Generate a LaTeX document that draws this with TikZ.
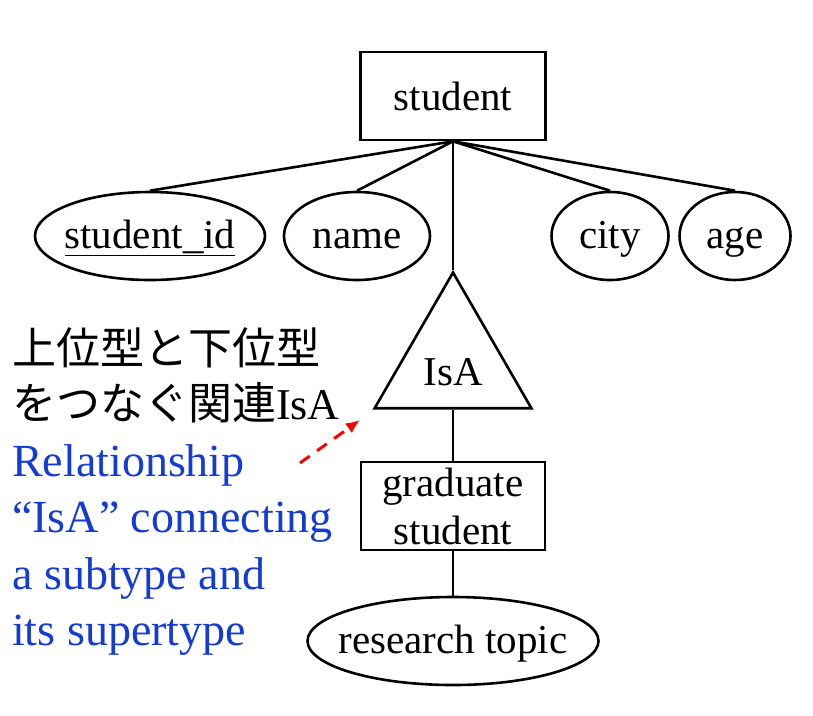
\documentclass[tikz,border=0pt]{standalone}
\usepackage{fontspec}
\setmainfont{Liberation Serif}
\newfontfamily\jafont{Noto Sans CJK JP}
\usetikzlibrary{arrows.meta,positioning,shapes.geometric}
\definecolor{noteblue}{RGB}{20,60,210}

\begin{document}
\begin{tikzpicture}[
  x=1pt, y=-1pt,
  every node/.style={font=\fontsize{41}{48}\selectfont},
  entity/.style={rectangle, draw, line width=2.6pt, minimum width=185pt, minimum height=88pt, inner sep=0pt},
  attr/.style={ellipse, draw, line width=2.6pt, minimum height=88pt, inner sep=0pt, text height=31pt, text depth=6pt},
  isa/.style={regular polygon, regular polygon sides=3, draw, line width=2.6pt, minimum size=181pt, inner sep=0pt},
  link/.style={line width=2.6pt},
  note/.style={anchor=north west, inner sep=0pt, align=left, font=\fontsize{46}{56.5}\selectfont}
]
\useasboundingbox (0,0) rectangle (813,715);
\node[entity] (student) at (453,96) {student};
\node[attr, minimum width=230pt] (sid) at (150,236) {\makebox[0pt]{\underline{student\_id}}};
\node[attr, minimum width=146pt] (name) at (357,236) {\makebox[0pt]{name}};
\node[attr, minimum width=117pt] (city) at (610,236) {\makebox[0pt]{city}};
\node[attr, minimum width=111pt] (age) at (735,236) {\makebox[0pt]{age}};
\node[isa] (isa) at (453,363) {};
\node (isatext) at (453,372) {IsA};
\node[entity, minimum width=184pt, align=center] (grad) at (453,506) {graduate\\student};
\node[attr, minimum width=291pt] (topic) at (453,641) {\makebox[0pt]{research topic}};
\draw[link] (student.south) -- (sid.north);
\draw[link] (student.south) -- (name.north);
\draw[link] (student.south) -- (city.north);
\draw[link] (student.south) -- (age.north);
\draw[link] (student.south) -- (isa.corner 1);
\draw[link] (isa.side 2) -- (grad.north);
\draw[link] (grad.south) -- (topic.north);
% annotation
\node[note, font=\fontsize{44}{55.5}\selectfont] (jp) at (12,327) {{\jafont 上位型と下位型}\\{\jafont をつなぐ関連}IsA};
\node[note, text=noteblue] (en) at (12,444) {Relationship\\“IsA” connecting\\a subtype and\\its supertype};
\coordinate (tail) at (300,463);
\coordinate (head) at (360,420);
\draw[-{Latex[length=14pt,width=12pt]}, red, line width=3pt, dash pattern=on 12pt off 9pt] (tail) -- (head);
\end{tikzpicture}
\end{document}
